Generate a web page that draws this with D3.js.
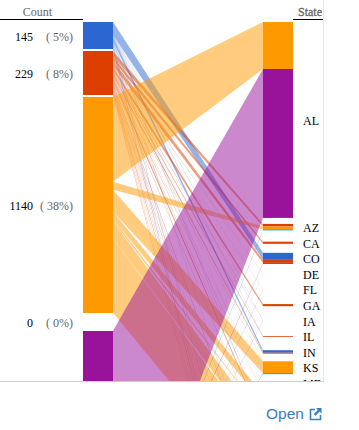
<!DOCTYPE html>
<html lang="en">
<head>
  <meta charset="utf-8">
  <title>Count by State</title>
  <script src="https://d3js.org/d3.v7.min.js"></script>
  <style>
    html, body { margin: 0; background: #fff; overflow: hidden; }
    svg { display: block; }
    text { font-family: "Liberation Serif", serif; font-size: 12px; }
  </style>
</head>
<body>
  <svg id="chart" width="359" height="430"></svg>

  <script>
    // Left column: count bins (the last two sit below the visible window)
    const binLabels = ["145", "229", "1140", "0", "1470", "50"];
    const binShares = ["5%", "8%", "38%", "0%", "49%", "2%"];
    const binValues = [145, 229, 1140, 0, 1470, 50];
    const binColors = ["#2a67d0", "#dc3f00", "#ff9900", "#109618", "#99129a", "#0099c6"];

    // Right column: states in order
    const states = ["AL", "AZ", "CA", "CO", "DE", "FL", "GA", "IA", "IL", "IN", "KS", "ME",
      "MI", "MN", "MO", "MT", "NC", "ND", "NE", "NJ", "NM", "NV", "NY", "OH", "OK", "OR", "PA", "TX", "VA"];

    // Flows per bin: [state, width at the bin, width at the state]
    const blueFlows = [["CO", 69, 37], ["DE", 1, 0.5], ["FL", 2, 1], ["GA", 2, 1], ["IA", 3, 1], ["IL", 3, 1],
      ["IN", 21, 13], ["KS", 2, 1], ["MI", 2, 1], ["MN", 3, 1], ["MO", 6, 3], ["NC", 5, 2], ["NY", 3, 1],
      ["OH", 8, 4], ["PA", 3, 1], ["TX", 10, 5], ["VA", 2, 1]];
    const redFlows = [["AZ", 26, 14], ["CA", 21, 11], ["CO", 29, 16], ["DE", 2, 1], ["FL", 2, 1], ["GA", 21, 11],
      ["IA", 5, 2], ["IL", 8, 4], ["IN", 11, 5], ["KS", 3, 1], ["ME", 3, 1], ["MI", 5, 2], ["MN", 5, 2],
      ["MO", 16, 8], ["MT", 5, 2], ["NC", 8, 5], ["ND", 3, 1], ["NE", 5, 2], ["NJ", 8, 3], ["NM", 3, 1],
      ["NV", 3, 1], ["NY", 5, 2], ["OH", 11, 5], ["OK", 5, 2], ["OR", 3, 1], ["PA", 5, 3], ["TX", 8, 4]];
    const orangeFlows = [["AL", 449, 248], ["AZ", 42, 15], ["KS", 116, 63], ["MI", 37, 48], ["MN", 16, 3],
      ["MO", 89, 79], ["MT", 391, 285]];
    const zeroFlows = [];
    const purpleFlows = [["AL", 1451, 786], ["CO", 6, 5], ["FL", 2, 1], ["GA", 3, 1], ["IA", 2, 1], ["MN", 3, 1], ["TX", 3, 1]];
    const cyanFlows = [["AZ", 10, 5], ["DE", 2, 1], ["FL", 3, 1], ["IA", 3, 1], ["KS", 12, 5], ["MO", 8, 3], ["OH", 6, 2], ["TX", 6, 2]];
    const binFlows = [blueFlows, redFlows, orangeFlows, zeroFlows, purpleFlows, cyanFlows];

    const chartW = 323, chartH = 381;
    const chartTop = 22, barW = 30, leftX = 83, rightX = 263;
    const binGap = 1.9, zeroGap = 9, rowStep = 15.6;

    const svg = d3.select("#chart");
    const color = d3.scaleOrdinal(binLabels, binColors);
    const h = d3.scaleLinear().domain([0, 1140]).range([0, 216]);

    svg.append("defs").append("clipPath").attr("id", "clip")
      .append("rect").attr("width", chartW).attr("height", chartH);
    const g = svg.append("g").attr("clip-path", "url(#clip)");

    // stack the bins
    let y = chartTop;
    const bins = binLabels.map((label, i) => {
      if (binValues[i] === 0) y += zeroGap - binGap;
      const b = { label, share: binShares[i], y0: y, y1: y + h(binValues[i]), flows: binFlows[i] };
      y = b.y1 + (binValues[i] === 0 ? zeroGap : binGap);
      return b;
    });

    // stack the states, big ones push the rows below
    const stateSize = {};
    states.forEach(s => stateSize[s] = 0);
    binFlows.forEach(list => list.forEach(f => stateSize[f[0]] += h(f[2])));
    const rows = {};
    let prevBottom = chartTop, prevCenter = 0;
    states.forEach((s, i) => {
      const size = stateSize[s];
      let y0;
      if (i === 0) y0 = chartTop;
      else if (i === 1) y0 = prevBottom + 6;
      else y0 = Math.max(prevCenter + rowStep - size / 2, prevBottom + 2);
      rows[s] = { y0, cursor: y0, center: y0 + size / 2 };
      prevBottom = y0 + size;
      prevCenter = y0 + size / 2;
    });

    // build ribbons, left and right ends each stacked in order
    const ribbons = [];
    bins.forEach(b => {
      let cursor = b.y0;
      b.flows.forEach(f => {
        const row = rows[f[0]];
        const r = { bin: b.label, l0: cursor, l1: cursor + h(f[1]), r0: row.cursor, r1: row.cursor + h(f[2]) };
        cursor = r.l1;
        row.cursor = r.r1;
        ribbons.push(r);
      });
    });

    const poly = d3.line();
    g.append("g").selectAll("path")
      .data(ribbons)
      .join("path")
        .attr("d", d => poly([[leftX + barW, d.l0], [rightX, d.r0], [rightX, d.r1], [leftX + barW, d.l1]]) + "Z")
        .attr("fill", d => color(d.bin))
        .attr("fill-opacity", 0.5);

    g.append("g").selectAll("rect")
      .data(bins)
      .join("rect")
        .attr("x", leftX)
        .attr("y", d => d.y0)
        .attr("width", barW)
        .attr("height", d => d.y1 - d.y0)
        .attr("fill", d => color(d.label))
        .attr("shape-rendering", "crispEdges");

    g.append("g").selectAll("rect")
      .data(ribbons.filter(d => d.r1 - d.r0 >= 0.5))
      .join("rect")
        .attr("x", rightX)
        .attr("y", d => d.r0)
        .attr("width", barW)
        .attr("height", d => d.r1 - d.r0)
        .attr("fill", d => color(d.bin));

    // left labels, only those inside the window
    const binLabel = g.append("g").selectAll("g")
      .data(bins.filter(d => (d.y0 + d.y1) / 2 < chartH))
      .join("g")
        .attr("transform", d => `translate(0,${(d.y0 + d.y1) / 2 + 1})`);
    binLabel.append("text")
      .attr("x", 33).attr("dy", "0.32em").attr("text-anchor", "end").attr("fill", "#000")
      .text(d => d.label);
    binLabel.append("text")
      .attr("x", 73).attr("dy", "0.32em").attr("text-anchor", "end").attr("fill", "#666")
      .text(d => `( ${d.share})`);

    // state labels, ME is the last one and is cut by the window
    g.append("g").selectAll("text")
      .data(states.filter(s => rows[s].center < chartH + 8))
      .join("text")
        .attr("x", 303)
        .attr("y", s => rows[s].center + 1)
        .attr("dy", "0.32em")
        .attr("fill", "#000")
        .text(s => s);

    // headers
    svg.append("text").attr("x", 37.5).attr("y", 16).attr("text-anchor", "middle").attr("fill", "#666").text("Count");
    svg.append("text").attr("x", 322).attr("y", 16).attr("text-anchor", "end").attr("fill", "#666")
      .attr("stroke", "#666").attr("stroke-width", 0.3).text("State");
    svg.append("line").attr("x1", 0).attr("x2", leftX).attr("y1", 19.5).attr("y2", 19.5).attr("stroke", "#000");
    svg.append("line").attr("x1", rightX + barW).attr("x2", chartW).attr("y1", 19.5).attr("y2", 19.5).attr("stroke", "#000");

    // frame
    svg.append("line").attr("x1", chartW + 0.5).attr("x2", chartW + 0.5).attr("y1", 0).attr("y2", chartH).attr("stroke", "#e8e8e8");
    svg.append("line").attr("x1", 0).attr("x2", chartW + 1).attr("y1", chartH + 0.5).attr("y2", chartH + 0.5).attr("stroke", "#ccc");

    // open link
    const linkColor = "#3a7ebd";
    svg.append("text").attr("x", 266).attr("y", 419).attr("fill", linkColor)
      .style("font-family", "'Liberation Sans', sans-serif").style("font-size", "15.5px").text("Open");
    svg.append("path")
      .attr("d", "M315 409.5H310.5V419.5H320.5V415")
      .attr("fill", "none").attr("stroke", linkColor).attr("stroke-width", 1.6);
    svg.append("path")
      .attr("d", "M316 408H321.5V413.5L319.6 411.6L315.5 415.7L313.8 414L317.9 409.9Z")
      .attr("fill", linkColor);
  </script>
</body>
</html>
